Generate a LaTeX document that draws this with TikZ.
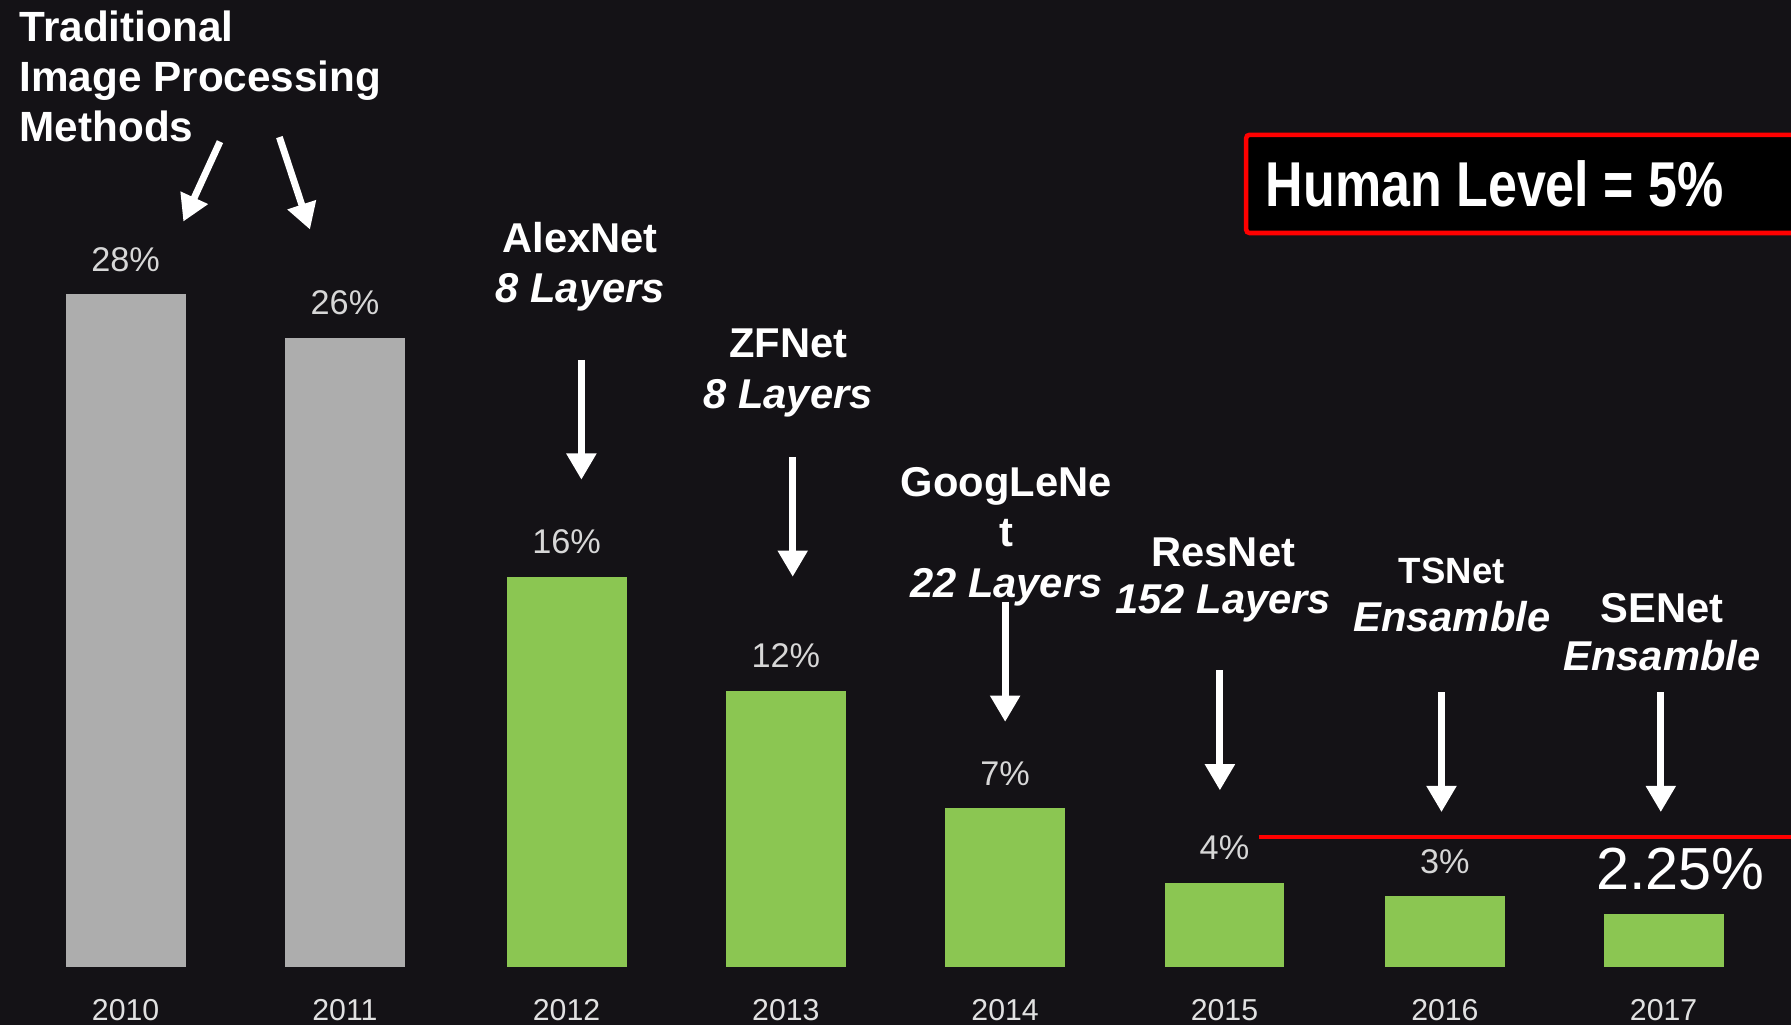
\documentclass[tikz,border=0pt]{standalone}
\usepackage{fontspec}
\setmainfont{Liberation Sans}
\newfontfamily\narrowsans[FakeStretch=0.82]{Liberation Sans}
\usetikzlibrary{positioning, arrows.meta}

\definecolor{slideBg}{RGB}{20,18,22}
\definecolor{barGray}{RGB}{173,173,173}
\definecolor{barGreen}{RGB}{139,198,82}
\definecolor{pctGray}{RGB}{215,215,215}
\definecolor{yearGray}{RGB}{225,225,225}
\definecolor{humanRed}{RGB}{255,0,0}

\begin{document}
\begin{tikzpicture}[
    x=1pt, y=-1pt,
    bar/.style={rectangle, inner sep=0pt, minimum width=105pt, anchor=south},
    pct/.style={inner sep=0pt, text=pctGray, font=\fontsize{30}{36}\selectfont},
    yearlbl/.style={inner sep=0pt, text=yearGray, font=\fontsize{26.5}{32}\selectfont},
    netlbl/.style={inner sep=0pt, align=center, text=white, anchor=north,
                   font=\bfseries\fontsize{36.5}{44}\selectfont},
    arrow/.style={-{Triangle[length=23pt, width=25pt]}, line width=6pt, white}
]
  \fill[slideBg] (0,0) rectangle (1568,897);
  \useasboundingbox (0,0) rectangle (1568,897);

  % --- Bars ---
  \node[bar, fill=barGray, minimum height=589pt] (b2010) at (110,847) {};
  \node[bar, fill=barGray, minimum height=551pt] (b2011) at (302,847) {};
  \node[bar, fill=barGreen, minimum height=342pt] (b2012) at (496,847) {};
  \node[bar, fill=barGreen, minimum height=242pt] (b2013) at (688,847) {};
  \node[bar, fill=barGreen, minimum height=139pt] (b2014) at (880,847) {};
  \node[bar, fill=barGreen, minimum height=74pt] (b2015) at (1072,847) {};
  \node[bar, fill=barGreen, minimum height=62pt] (b2016) at (1265,847) {};
  \node[bar, fill=barGreen, minimum height=47pt] (b2017) at (1456.5,847) {};

  % --- Error rates ---
  \node[pct, above=19.5pt of b2010] (p2010) {28\%};
  \node[pct, above=19.5pt of b2011] (p2011) {26\%};
  \node[pct, above=19.5pt of b2012] (p2012) {16\%};
  \node[pct, above=19.5pt of b2013] (p2013) {12\%};
  \node[pct, above=19.5pt of b2014] (p2014) {7\%};
  \node[pct, above=19.5pt of b2015] (p2015) {4\%};
  \node[pct, above=19.5pt of b2016] (p2016) {3\%};
  \node[pct, font=\fontsize{52}{60}\selectfont, text=white, anchor=base]
    (p2017) at (1471,779) {2.25\%};

  % --- Years ---
  \node[yearlbl, below=28pt of b2010] (y2010) {2010};
  \node[yearlbl, below=28pt of b2011] (y2011) {2011};
  \node[yearlbl, below=28pt of b2012] (y2012) {2012};
  \node[yearlbl, below=28pt of b2013] (y2013) {2013};
  \node[yearlbl, below=28pt of b2014] (y2014) {2014};
  \node[yearlbl, below=28pt of b2015] (y2015) {2015};
  \node[yearlbl, below=28pt of b2016] (y2016) {2016};
  \node[yearlbl, below=28pt of b2017] (y2017) {2017};

  % --- Traditional methods ---
  \node[inner sep=0pt, align=left, text=white, anchor=north west,
        font=\bfseries\fontsize{37}{43.5}\selectfont] (trad) at (17,9.5)
    {Traditional\\Image Processing\\Methods};
  \coordinate (tradA0) at (192.6,124);
  \coordinate (tradA1) at (160.5,194);
  \coordinate (tradB0) at (244.6,120);
  \coordinate (tradB1) at (271.4,201);
  \draw[arrow] (tradA0) -- (tradA1);
  \draw[arrow] (tradB0) -- (tradB1);

  % --- Networks ---
  \node[netlbl] (alex) at (508,194) {AlexNet\\\itshape 8 Layers};
  \node[netlbl] (zf) at (690,288) {ZFNet\\\itshape 8 Layers};
  \node[netlbl] (goog) at (881,409) {GoogLeNe\\t\\\itshape 22 Layers};
  \node[netlbl, font=\bfseries\fontsize{36.5}{41}\selectfont] (res) at (1071,471)
    {ResNet\\\itshape 152 Layers};
  \node[netlbl, font=\bfseries\fontsize{36.5}{42.4}\selectfont] (ts) at (1271,488)
    {{\fontsize{32}{42.4}\selectfont TSNet}\\\itshape Ensamble};
  \node[netlbl, font=\bfseries\fontsize{36.5}{42.4}\selectfont] (se) at (1455,519)
    {SENet\\\itshape Ensamble};

  \coordinate (alexS) at (509,315);   \coordinate (alexE) at (509,420);
  \coordinate (zfS) at (694,400);     \coordinate (zfE) at (694,505);
  \coordinate (googS) at (880,527);   \coordinate (googE) at (880,632);
  \coordinate (resS) at (1068,587);   \coordinate (resE) at (1068,692);
  \coordinate (tsS) at (1262,606);    \coordinate (tsE) at (1262,711);
  \coordinate (seS) at (1454,606);    \coordinate (seE) at (1454,711);
  \draw[arrow] (alexS) -- (alexE);
  \draw[arrow] (zfS) -- (zfE);
  \draw[arrow] (googS) -- (googE);
  \draw[arrow] (resS) -- (resE);
  \draw[arrow] (tsS) -- (tsE);
  \draw[arrow] (seS) -- (seE);

  % --- Human level ---
  \node[draw=humanRed, fill=black, line width=4pt, rounded corners=3pt,
        minimum width=520pt, minimum height=86pt, anchor=north west]
    (hbox) at (1089,116) {};
  \node[inner sep=0pt, text=white, anchor=base west,
        font=\narrowsans\bfseries\fontsize{55.5}{60}\selectfont]
    (human) at (1108,180.5) {Human Level = 5\%};
  \coordinate (hline0) at (1102,733);
  \coordinate (hline1) at (1575,733);
  \draw[humanRed, line width=3.5pt] (hline0) -- (hline1);

\end{tikzpicture}
\end{document}
